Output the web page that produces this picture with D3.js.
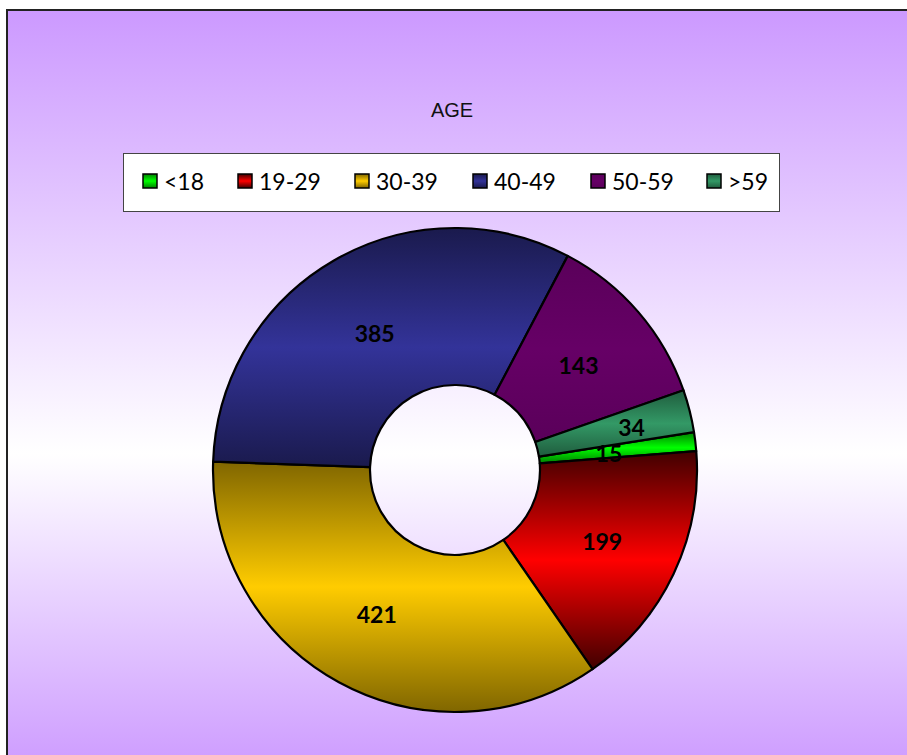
<!DOCTYPE html>
<html>
<head>
<meta charset="utf-8">
<script src="https://cdn.jsdelivr.net/npm/d3@7"></script>
<style>
  body { margin: 0; padding: 0; background: #fff; }
  svg { display: block; }
</style>
</head>
<body>
<svg id="chart"></svg>
<script>
// data
var categories = ["<18", "19-29", "30-39", "40-49", "50-59", ">59"];
var values = [15, 199, 421, 385, 143, 34];
var brightColors = ["#00ff00", "#ff0000", "#ffcc00", "#333399", "#660066", "#339966"];
var darkColors = ["#008000", "#400000", "#806600", "#1a1a4d", "#5a005a", "#1f5c3d"];
var title = "AGE";

var W = 907, H = 755;
var cx = 455, cy = 470, rOuter = 242, rInner = 85;

var svg = d3.select("#chart").attr("width", W).attr("height", H);
var defs = svg.append("defs");

// background gradient
var bg = defs.append("linearGradient").attr("id", "bg")
  .attr("x1", 0).attr("y1", 0).attr("x2", 0).attr("y2", 1);
bg.append("stop").attr("offset", "0%").attr("stop-color", "#cc99ff");
bg.append("stop").attr("offset", "58%").attr("stop-color", "#ffffff");
bg.append("stop").attr("offset", "100%").attr("stop-color", "#cc99ff");

svg.append("rect")
  .attr("x", 7).attr("y", 10).attr("width", W + 10).attr("height", H + 10)
  .attr("fill", "url(#bg)")
  .attr("stroke", "#222").attr("stroke-width", 2);

// slice gradients: dark - bright - dark, vertical
categories.forEach(function (c, i) {
  var g = defs.append("linearGradient").attr("id", "g" + i)
    .attr("x1", 0).attr("y1", 0).attr("x2", 0).attr("y2", 1);
  g.append("stop").attr("offset", "0%").attr("stop-color", darkColors[i]);
  g.append("stop").attr("offset", "50%").attr("stop-color", brightColors[i]);
  g.append("stop").attr("offset", "100%").attr("stop-color", darkColors[i]);
});

// title
svg.append("text")
  .attr("x", 452).attr("y", 117)
  .attr("text-anchor", "middle")
  .style("font-family", "'Liberation Sans', Arial, sans-serif")
  .style("font-size", "20px")
  .attr("fill", "#111")
  .text(title);

// legend
var legend = svg.append("g");
legend.append("rect")
  .attr("x", 123.5).attr("y", 153.5).attr("width", 656).attr("height", 58)
  .attr("fill", "#fff").attr("stroke", "#444").attr("stroke-width", 1);

var legendX = [143, 238, 355, 473, 591, 707];
var items = legend.selectAll(".item").data(categories).enter()
  .append("g").attr("class", "item")
  .attr("transform", function (d, i) { return "translate(" + legendX[i] + ",182)"; });
items.append("rect")
  .attr("x", 0).attr("y", -8).attr("width", 14).attr("height", 14)
  .attr("fill", function (d, i) { return "url(#g" + i + ")"; })
  .attr("stroke", "#000").attr("stroke-width", 1.5);
items.append("text")
  .attr("x", 21).attr("y", 8)
  .style("font-family", "Lato, 'Open Sans', sans-serif")
  .style("font-size", "23px")
  .attr("fill", "#000")
  .text(function (d) { return d; });

// donut
var startRot = 81 * Math.PI / 180;
var pie = d3.pie().sort(null).value(function (d) { return d; })
  .startAngle(startRot).endAngle(startRot + 2 * Math.PI);
var arc = d3.arc().innerRadius(rInner).outerRadius(rOuter);
// label radius: small slices pushed a bit so they do not collide
var labelR = [155, 163, 163, 160, 163, 182];

var arcs = pie(values);
var donut = svg.append("g").attr("transform", "translate(" + cx + "," + cy + ")");

donut.selectAll("path").data(arcs).enter().append("path")
  .attr("d", arc)
  .attr("fill", function (d, i) { return "url(#g" + i + ")"; })
  .attr("stroke", "#000").attr("stroke-width", 2.2)
  .attr("stroke-linejoin", "round");

donut.selectAll(".lbl").data(arcs).enter().append("text")
  .attr("class", "lbl")
  .attr("transform", function (d, i) {
    var p = d3.arc().innerRadius(labelR[i]).outerRadius(labelR[i]).centroid(d);
    return "translate(" + p[0] + "," + (p[1] + 10) + ")";
  })
  .attr("text-anchor", "middle")
  .style("font-family", "Lato, 'Open Sans', sans-serif")
  .style("font-weight", "bold")
  .style("font-size", "23px")
  .attr("fill", "#000")
  .text(function (d) { return d.data; });
</script>
</body>
</html>
